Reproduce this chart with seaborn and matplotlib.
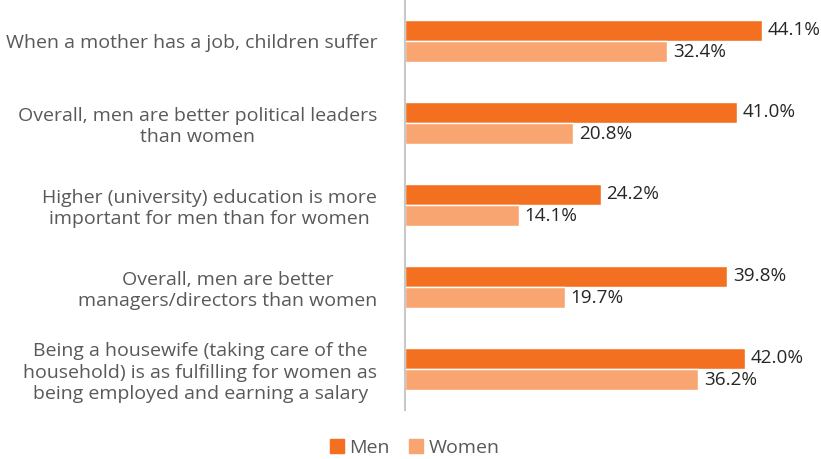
import pandas as pd
import matplotlib.pyplot as plt
import seaborn as sns
from matplotlib.patches import Patch

sns.set_style("white")
plt.rcParams['font.family'] = ['Open Sans', 'DejaVu Sans']

statements = [
    "When a mother has a job, children suffer",
    "Overall, men are better political leaders\nthan women",
    "Higher (university) education is more\nimportant for men than for women",
    "Overall, men are better\nmanagers/directors than women",
    "Being a housewife (taking care of the\nhousehold) is as fulfilling for women as\nbeing employed and earning a salary",
]
men = [44.1, 41.0, 24.2, 39.8, 42.0]
women = [32.4, 20.8, 14.1, 19.7, 36.2]
series = ["Men", "Women"]
colors = ["#F37021", "#F9A571"]

dados = pd.DataFrame({
    "statement": statements * 2,
    "value": men + women,
    "group": ["Men"] * 5 + ["Women"] * 5,
})

fig = plt.figure(figsize=(8.21, 4.59), dpi=100)
ax = fig.add_axes([405 / 821, 49 / 459, 405 / 821, 410 / 459])

sns.barplot(data=dados, y="statement", x="value", hue="group", orient="h",
            palette=colors, width=0.52, ax=ax, legend=False, saturation=1)

for cont in ax.containers:
    ax.bar_label(cont, fmt="%.1f%%", padding=4, fontsize=13.6, color="#262626")

ax.set_xlim(0, 50)
ax.set_ylim(4.5, -0.5)
ax.set_xlabel("")
ax.set_ylabel("")
ax.set_xticks([])
for s in ["top", "right", "bottom"]:
    ax.spines[s].set_visible(False)
ax.spines["left"].set_color("#C8C8C8")
ax.spines["left"].set_linewidth(1.5)
ax.tick_params(axis="y", length=0, pad=20, labelsize=14, labelcolor="#595959")
for t in ax.get_yticklabels():
    t.set_multialignment("center")
    t.set_linespacing(1.25)

handles = [Patch(color=c, label=s) for c, s in zip(colors, series)]
fig.legend(handles=handles, loc="center", bbox_to_anchor=(415 / 821, 1 - 448 / 459),
           ncol=2, frameon=False, fontsize=14, handlelength=0.7, handleheight=0.7,
           handletextpad=0.3, columnspacing=1.0, labelcolor="#595959")

plt.savefig("out.png", dpi=100)
